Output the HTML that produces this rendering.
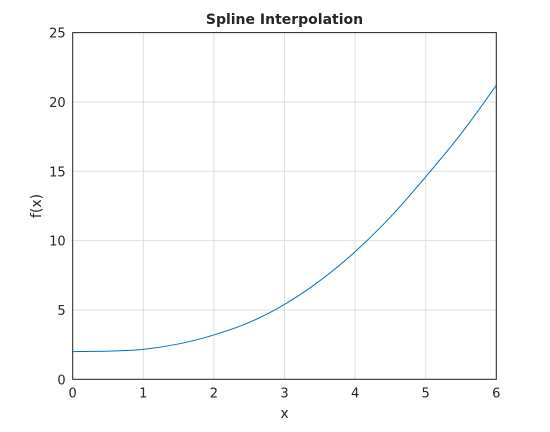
<!DOCTYPE html>
<html><head><meta charset="utf-8"><style>
body{margin:0;background:#fff;font-family:"Liberation Sans","DejaVu Sans",sans-serif;}
svg text{font-family:"DejaVu Sans","Liberation Sans",sans-serif;fill:#262626;}
</style></head><body>
<svg id="chart" width="550" height="427" xmlns="http://www.w3.org/2000/svg">
<rect width="550" height="427" fill="#fff"/>
<rect x="72.7" y="32.6" width="423.6" height="346.7" fill="#fff"/>
<g id="grid"></g>
<g id="ticks"></g>
<path id="curve" fill="none" stroke="#0072bd" stroke-width="1"/>
<rect x="72.7" y="32.6" width="423.6" height="346.7" fill="none" stroke="#262626" stroke-width="1"/>
<text x="284.5" y="24" text-anchor="middle" font-size="14" font-weight="bold">Spline Interpolation</text>
<text x="284.5" y="418" text-anchor="middle" font-size="14">x</text>
<text x="0" y="0" transform="translate(41,206) rotate(-90)" text-anchor="middle" font-size="14">f(x)</text>
</svg>
<script>
const xTicks=[0,1,2,3,4,5,6];
const yTicks=[0,5,10,15,20,25];
const xValues=[0,0.5,1,1.5,2,2.5,3,3.5,4,4.5,5,5.5,6];
const yValues=[2,2.03,2.16,2.55,3.2,4.1,5.4,7.1,9.2,11.7,14.6,17.7,21.2];
const L=72.7,R=496.3,T=32.6,B=379.3;
const sx=v=>L+(v-0)/6*(R-L);
const sy=v=>B-(v-0)/25*(B-T);
const NS="http://www.w3.org/2000/svg";
const grid=document.getElementById('grid'),ticks=document.getElementById('ticks');
function mk(tag,attrs,parent){const e=document.createElementNS(NS,tag);for(const k in attrs)e.setAttribute(k,attrs[k]);parent.appendChild(e);return e;}
xTicks.forEach(v=>{
 const gl=mk('line',{x1:sx(v),x2:sx(v),y1:T,y2:B,stroke:'#dfdfdf','stroke-width':1},grid);
 
 
 const t=mk('text',{x:sx(v),y:B+18,'text-anchor':'middle','font-size':13},ticks);
 t.textContent=v;
 
 
});
yTicks.forEach(v=>{
 const gl=mk('line',{x1:L,x2:R,y1:sy(v),y2:sy(v),stroke:'#dfdfdf','stroke-width':1},grid);
 
 
 const t=mk('text',{x:L-7,y:sy(v)+5,'text-anchor':'end','font-size':13},ticks);
 t.textContent=v;
 
 
});
// Catmull-Rom smooth path through data points
const P=xValues.map((x,i)=>[sx(x),sy(yValues[i])]);
let d=`M${P[0][0]},${P[0][1]}`;
for(let i=0;i<P.length-1;i++){
 const p0=P[Math.max(i-1,0)],p1=P[i],p2=P[i+1],p3=P[Math.min(i+2,P.length-1)];
 const c1=[p1[0]+(p2[0]-p0[0])/6,p1[1]+(p2[1]-p0[1])/6];
 const c2=[p2[0]-(p3[0]-p1[0])/6,p2[1]-(p3[1]-p1[1])/6];
 d+=` C${c1[0]},${c1[1]} ${c2[0]},${c2[1]} ${p2[0]},${p2[1]}`;
}
document.getElementById('curve').setAttribute('d',d);
</script>
</body></html>
